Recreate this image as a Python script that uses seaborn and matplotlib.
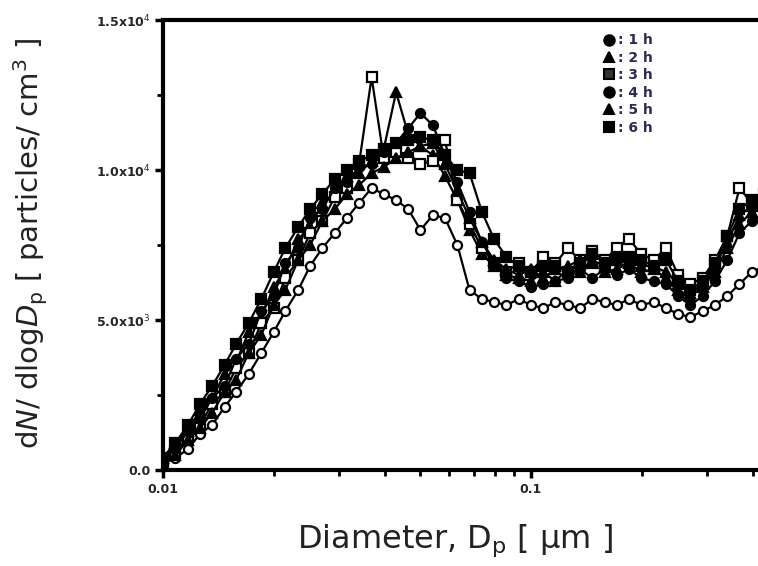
import numpy as np
import pandas as pd
import matplotlib
matplotlib.use("Agg")
import matplotlib.pyplot as plt
import seaborn as sns
from matplotlib.ticker import FixedLocator, NullFormatter, MultipleLocator
from matplotlib.lines import Line2D

diameters = [0.0100, 0.0108, 0.0117, 0.0126, 0.0136, 0.0147, 0.0158, 0.0171, 0.0185, 0.0200,
             0.0215, 0.0233, 0.0251, 0.0271, 0.0293, 0.0316, 0.0341, 0.0369, 0.0398, 0.0430,
             0.0464, 0.0501, 0.0541, 0.0584, 0.0631, 0.0681, 0.0736, 0.0794, 0.0858, 0.0926,
             0.1000, 0.1080, 0.1166, 0.1259, 0.1359, 0.1468, 0.1585, 0.1711, 0.1848, 0.1995,
             0.2154, 0.2326, 0.2512, 0.2712, 0.2929, 0.3162, 0.3415, 0.3687, 0.3981, 0.4299]

s1h = [200, 400, 700, 1200, 1500, 2100, 2600, 3200, 3900, 4600,
       5300, 6000, 6800, 7400, 7900, 8400, 8900, 9400, 9200, 9000,
       8700, 8000, 8500, 8400, 7500, 6000, 5700, 5600, 5500, 5700,
       5500, 5400, 5600, 5500, 5400, 5700, 5600, 5500, 5700, 5500,
       5600, 5400, 5200, 5100, 5300, 5500, 5800, 6200, 6600, 6800]
s2h = [400, 900, 1300, 2000, 2400, 3200, 3600, 4600, 5100, 6100,
       6700, 7700, 8100, 8900, 9200, 9800, 9900, 10300, 10700, 12600,
       11200, 10800, 10500, 9800, 9000, 8000, 7200, 6800, 6500, 6400,
       6300, 6600, 6300, 6700, 6600, 6900, 6600, 6700, 6900, 6600,
       6700, 6400, 6000, 5800, 6100, 6600, 7400, 8200, 8600, 8800]
s3h = [300, 600, 1100, 1500, 2200, 2600, 3400, 3900, 4900, 5400,
       6400, 7000, 7900, 8300, 9100, 9400, 10200, 13100, 10400, 10600,
       10400, 10200, 10300, 11000, 9000, 8200, 7400, 6900, 6600, 6900,
       6600, 7100, 6900, 7400, 7000, 7300, 7000, 7400, 7700, 7200,
       7000, 7400, 6500, 6200, 6400, 7000, 7800, 9400, 8900, 9000]
s4h = [350, 700, 1300, 1700, 2400, 2800, 3700, 4200, 5300, 5800,
       6900, 7400, 8400, 8700, 9400, 9600, 10100, 10200, 10600, 10900,
       11400, 11900, 11500, 10500, 9600, 8600, 7600, 6900, 6400, 6300,
       6100, 6200, 6300, 6400, 6700, 6400, 6700, 6500, 6700, 6400,
       6300, 6200, 5800, 5500, 5800, 6300, 7000, 7900, 8300, 8500]
s5h = [250, 500, 1000, 1400, 1900, 2600, 3000, 3900, 4500, 5500,
       6000, 7000, 7500, 8300, 8700, 9200, 9500, 9900, 10100, 10400,
       10600, 10800, 10900, 10200, 9300, 8400, 7600, 7000, 6700, 6500,
       6700, 6400, 6700, 6800, 7000, 7000, 6800, 7000, 7000, 6800,
       6800, 6600, 6200, 5900, 6200, 6800, 7600, 8500, 8800, 9000]
s6h = [400, 900, 1500, 2200, 2800, 3500, 4200, 4900, 5700, 6600,
       7400, 8100, 8700, 9200, 9700, 10000, 10300, 10500, 10700, 10900,
       11000, 11100, 11000, 10500, 10000, 9900, 8600, 7700, 7100, 6800,
       6600, 6800, 6800, 6600, 6900, 7200, 6900, 7100, 7100, 7000,
       6800, 7000, 6300, 6000, 6300, 6900, 7800, 8700, 9000, 9200]

series_names = ["1 h", "2 h", "3 h", "4 h", "5 h", "6 h"]
series_values = [s1h, s2h, s3h, s4h, s5h, s6h]
y_ticks = [0, 5000, 10000, 15000]
y_tick_labels = ["0.0", r"5.0x10$^3$", r"1.0x10$^4$", r"1.5x10$^4$"]
x_ticks = [0.01, 0.1]
x_tick_labels = ["0.01", "0.1"]

styles = {
    "1 h": dict(marker="o", mfc="white"),
    "2 h": dict(marker="^", mfc="black"),
    "3 h": dict(marker="s", mfc="white"),
    "4 h": dict(marker="o", mfc="black"),
    "5 h": dict(marker="^", mfc="black"),
    "6 h": dict(marker="s", mfc="black"),
}

frames = []
for name, vals in zip(series_names, series_values):
    frames.append(pd.DataFrame({"d": diameters, "n": vals, "time": name}))
df = pd.concat(frames, ignore_index=True)

sns.set_theme(style="white")
plt.rcParams['font.family'] = ['DejaVu Sans']

fig = plt.figure(figsize=(7.58, 5.66), dpi=100)
ax = fig.add_axes([0.215, 0.1696, 0.785, 0.7947])

for name in series_names:
    sub = df[df["time"] == name]
    st = styles[name]
    sns.lineplot(data=sub, x="d", y="n", ax=ax, color="black", lw=1.6,
                 marker=st["marker"], markersize=6.5, mfc=st["mfc"], mec="black",
                 mew=1.6, legend=False, estimator=None, sort=True)

ax.set_xscale("log")
ax.set_xlim(0.01, 0.414)
ax.set_ylim(0, 15000)

ax.xaxis.set_major_locator(FixedLocator(x_ticks))
ax.set_xticklabels(x_tick_labels, fontsize=9, fontweight="bold")
ax.xaxis.set_minor_locator(FixedLocator([0.02, 0.03, 0.04, 0.05, 0.06, 0.07, 0.08, 0.09, 0.2, 0.3, 0.4]))
ax.xaxis.set_minor_formatter(NullFormatter())
ax.set_yticks(y_ticks)
ax.set_yticklabels(y_tick_labels, fontsize=9, fontweight="bold")
ax.yaxis.set_minor_locator(MultipleLocator(2500))

ax.tick_params(axis="both", which="major", direction="out", length=6, width=2.5, color="black", pad=3, bottom=True, left=True)
ax.tick_params(axis="both", which="minor", direction="out", length=4, width=2, color="black", bottom=True, left=True)

for side in ["left", "bottom", "top"]:
    ax.spines[side].set_visible(True)
    ax.spines[side].set_color("black")
    ax.spines[side].set_linewidth(3)
ax.spines["right"].set_visible(False)

ax.set_xlabel("")
ax.set_ylabel("")
fig.text(0.60, 0.045, r"Diameter, D$_{\rm p}$ [ μm ]", ha="center", va="center", fontsize=23, color="#222222")
fig.text(0.04, 0.57, r"d$N$/ dlog$D_{\rm p}$ [ particles/ cm$^3$ ]", ha="center", va="center",
         rotation=90, fontsize=21, color="#222222")

handles = [Line2D([], [], ls="none", marker=styles[n]["marker"], mfc="black" if n != "3 h" else "#333333",
                  mec="black", mew=1.5, markersize=7.5) for n in series_names]
leg = ax.legend(handles, [": " + n for n in series_names], loc="upper left",
                bbox_to_anchor=(0.728, 0.983), frameon=False, handlelength=1.0,
                handletextpad=0.2, labelspacing=0.25, borderaxespad=0,
                prop={"weight": "bold", "size": 10})
for t in leg.get_texts():
    t.set_color("#2b2b55")

fig.savefig("out.png", dpi=100)
